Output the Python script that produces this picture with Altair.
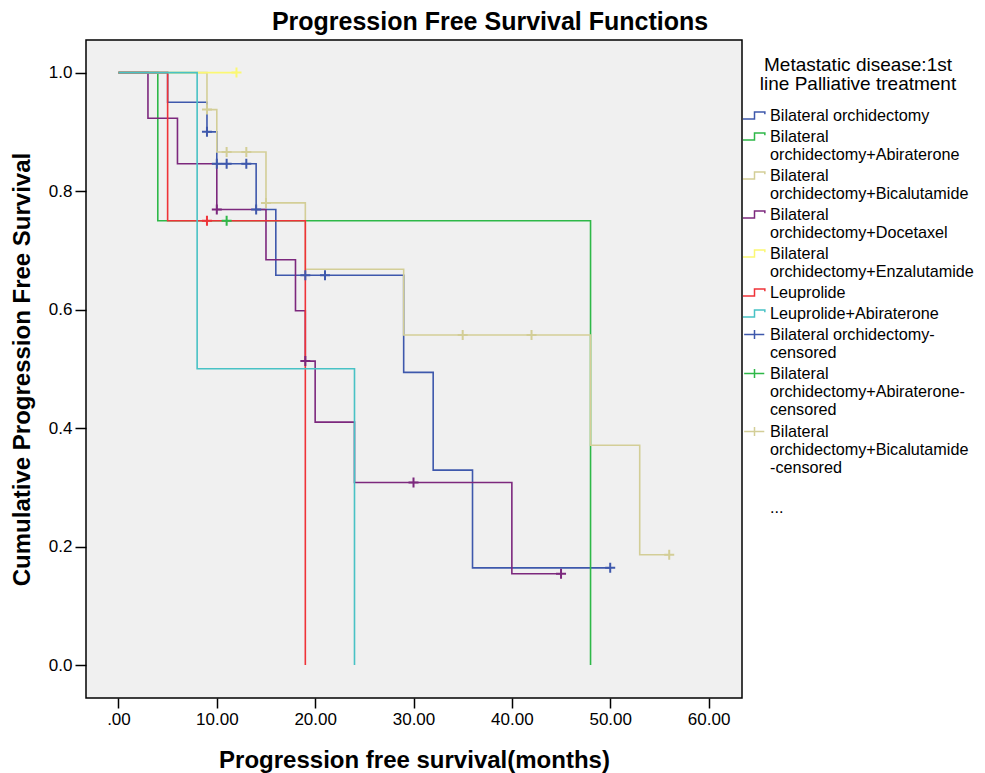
import altair as alt
import pandas as pd

# ---------------- data ----------------
groups = [
    "Bilateral orchidectomy",
    "Bilateral orchidectomy+Abiraterone",
    "Bilateral orchidectomy+Bicalutamide",
    "Bilateral orchidectomy+Docetaxel",
    "Bilateral orchidectomy+Enzalutamide",
    "Leuprolide",
    "Leuprolide+Abiraterone",
]
colors = ["#3E58AC", "#2EB848", "#D3CE97", "#7C287D", "#FBF873", "#EF3338", "#48C2C5"]

# step curves: times and survival after each step
orch_t = [0, 5, 9, 10, 14, 16, 29, 32, 36, 50]
orch_s = [1.0, 0.95, 0.90, 0.846, 0.769, 0.658, 0.494, 0.329, 0.164, 0.164]
abi_t = [0, 4, 48]
abi_s = [1.0, 0.75, 0.0]
bica_t = [0, 9, 10, 15, 19, 29, 48, 53, 56]
bica_s = [1.0, 0.9375, 0.866, 0.780, 0.668, 0.557, 0.371, 0.186, 0.186]
doce_t = [0, 3, 6, 10, 15, 18, 19, 20, 24, 40, 45]
doce_s = [1.0, 0.923, 0.846, 0.769, 0.684, 0.598, 0.513, 0.410, 0.308, 0.154, 0.154]
enza_t = [0, 12]
enza_s = [1.0, 1.0]
leup_t = [0, 5, 19]
leup_s = [1.0, 0.75, 0.0]
leupabi_t = [0, 8, 24]
leupabi_s = [1.0, 0.5, 0.0]

# censored observations
orch_ct = [9, 10, 11, 13, 14, 19, 21, 50]
orch_cs = [0.90, 0.846, 0.846, 0.846, 0.769, 0.658, 0.658, 0.164]
abi_ct = [11]
abi_cs = [0.75]
bica_ct = [9, 11, 13, 15, 35, 42, 56]
bica_cs = [0.9375, 0.866, 0.866, 0.780, 0.557, 0.557, 0.186]
doce_ct = [10, 19, 30, 45]
doce_cs = [0.769, 0.513, 0.308, 0.154]
enza_ct = [12]
enza_cs = [1.0]
leup_ct = [9]
leup_cs = [0.75]

x_ticks = [0, 10, 20, 30, 40, 50, 60]
y_ticks = [0.0, 0.2, 0.4, 0.6, 0.8, 1.0]

# ---------------- tables ----------------
curves = [(orch_t, orch_s), (abi_t, abi_s), (bica_t, bica_s), (doce_t, doce_s),
          (enza_t, enza_s), (leup_t, leup_s), (leupabi_t, leupabi_s)]
rows = []
for gi, (g, (ts, ss)) in enumerate(zip(groups, curves)):
    for i, (t, s) in enumerate(zip(ts, ss)):
        rows.append({"group": g, "gi": gi, "i": i, "t": t, "s": s})
line_df = pd.DataFrame(rows)

cens = [(orch_ct, orch_cs), (abi_ct, abi_cs), (bica_ct, bica_cs),
        (doce_ct, doce_cs), (enza_ct, enza_cs), (leup_ct, leup_cs)]
cens_names = [g + "-censored" for g in groups[:len(cens)]]
crow = []
for name, (ts, ss) in zip(cens_names, cens):
    for t, s in zip(ts, ss):
        crow.append({"cgroup": name, "t": t, "s": s})
cens_df = pd.DataFrame(crow)

more = "..."
cens_domain = cens_names + [more]
cens_range = colors[:len(cens)] + ["transparent"]


def wrap_expr(mapping):
    expr = "datum.label"
    for k, lines in mapping.items():
        arr = "[" + ",".join("'" + l + "'" for l in lines) + "]"
        expr = "datum.label === '" + k + "' ? " + arr + " : (" + expr + ")"
    return expr


wrap1 = {g: ["Bilateral", g.replace("Bilateral ", "")] for g in groups[1:5]}
wrap2 = {
    cens_names[0]: ["Bilateral orchidectomy-", "censored"],
    cens_names[1]: ["Bilateral", "orchidectomy+Abiraterone-", "censored"],
    cens_names[2]: ["Bilateral", "orchidectomy+Bicalutamide", "-censored"],
    more: ["", "..."],
}

FONT = "Liberation Sans"
step_path = "M-1,0.3L0,0.3L0,-0.3L0.9,-0.3L0.9,-0.1"
cross_leg_path = "M-0.9,0L0.85,0M0,-0.4L0,0.4"
cross_path = "M-1,0L1,0M0,-1L0,1"
LBL = 16.2
RP = 0

x_enc = alt.X(
    "t:Q",
    scale=alt.Scale(domain=[-3.3, 63.4], nice=False, zero=False),
    axis=alt.Axis(
        values=x_ticks, title="Progression free survival(months)",
        labelExpr="datum.value === 0 ? '.00' : format(datum.value, '.2f')",
        grid=False, domain=False, tickSize=10, tickColor="black", tickWidth=1.5,
        labelFontSize=17, labelColor="black", labelPadding=3,
        titleFontSize=24, titleFontWeight="bold", titleColor="black", titlePadding=21,
    ),
)
y_enc = alt.Y(
    "s:Q",
    scale=alt.Scale(domain=[-0.0557, 1.055], nice=False, zero=False),
    axis=alt.Axis(
        values=y_ticks, format=".1f", title="Cumulative Progression Free Survival",
        grid=False, domain=False, tickSize=11, tickColor="black", tickWidth=1.5,
        labelFontSize=17, labelColor="black", labelPadding=3,
        titleFontSize=24, titleFontWeight="bold", titleColor="black", titlePadding=14,
    ),
)

lines = alt.Chart(line_df).mark_line(interpolate="step-after", strokeWidth=1.6).encode(
    x=x_enc,
    y=y_enc,
    color=alt.Color(
        "group:N",
        scale=alt.Scale(domain=groups, range=colors),
        legend=alt.Legend(
            title=["Metastatic disease:1st", "line Palliative treatment"],
            orient="none", legendX=656, legendY=16,
            titleFontSize=19, titleFontWeight="normal", titleColor="black",
            titleAnchor="middle", titleAlign="center", titleLineHeight=19,
            titlePadding=9, titleLimit=400,
            symbolType=step_path, symbolSize=529, symbolStrokeWidth=1.5,
            symbolFillColor="transparent",
            labelExpr=wrap_expr(wrap1), labelFontSize=LBL, labelColor="black",
            labelLimit=400, labelOffset=3, rowPadding=RP, padding=0,
        ),
    ),
    order=alt.Order("i:Q"),
)

censors = alt.Chart(cens_df).mark_point(
    shape=cross_path, size=100, filled=False, strokeWidth=2, opacity=1
).encode(
    x="t:Q",
    y="s:Q",
    stroke=alt.Stroke(
        "cgroup:N",
        scale=alt.Scale(domain=cens_domain, range=cens_range),
        legend=alt.Legend(
            title=None, values=cens_names[:3] + [more],
            orient="none", legendX=656, legendY=282,
            symbolType=cross_leg_path, symbolSize=529, symbolStrokeWidth=1.5,
            symbolFillColor="transparent",
            labelExpr=wrap_expr(wrap2), labelFontSize=LBL, labelColor="black",
            labelLimit=400, labelOffset=3, rowPadding=RP, padding=0,
        ),
    ),
)

chart = alt.layer(lines, censors).properties(
    width=656,
    height=658,
    title=alt.TitleParams(
        "Progression Free Survival Functions", fontSize=25, fontWeight="bold",
        color="black", anchor="middle", dx=76, dy=25, offset=18, baseline="middle",
    ),
    padding={"left": 86, "top": 40, "right": 243, "bottom": 75},
    autosize=alt.AutoSizeParams(type="none"),
).configure(font=FONT).configure_view(
    fill="#F0F0F0", stroke="black", strokeWidth=1.5
)

chart.save("out.html", embed_options={"renderer": "svg", "actions": False})
